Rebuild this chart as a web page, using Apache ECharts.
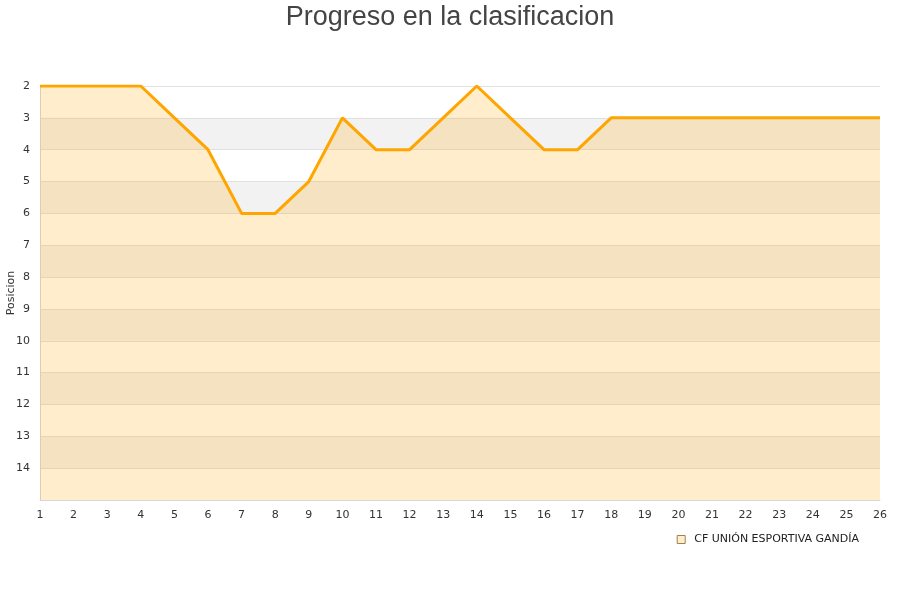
<!DOCTYPE html>
<html><head><meta charset="utf-8">
<script src="https://cdn.jsdelivr.net/npm/echarts@6/dist/echarts.min.js"></script>
<style>html,body{margin:0;padding:0;background:#fff}#c{width:900px;height:600px}</style>
</head><body><div id="c"></div>
<script>
const jornadas = [1,2,3,4,5,6,7,8,9,10,11,12,13,14,15,16,17,18,19,20,21,22,23,24,25,26];
const posiciones = [2,2,2,2,3,4,6,6,5,3,4,4,3,2,3,4,4,3,3,3,3,3,3,3,3,3];
const teamName = 'CF UNIÓN ESPORTIVA GANDÍA';
const titleText = 'Progreso en la clasificacion';
const yName = 'Posicion';

const chart = echarts.init(document.getElementById('c'), null, {renderer:'canvas'});
chart.setOption({
  animation:false,
  backgroundColor:'#fff',
  title:{text:titleText,left:'center',top:-1,textStyle:{fontFamily:'Liberation Sans, Arial, sans-serif',fontSize:27,fontWeight:'normal',color:'#444'}},
  legend:{show:true,right:36,top:529,itemWidth:8,itemHeight:8,icon:'rect',itemGap:6,
    textStyle:{fontFamily:'DejaVu Sans, sans-serif',fontSize:11,color:'#222',padding:[0,0,0,4]},
    data:[{name:teamName,itemStyle:{color:'#ffedcc',borderColor:'#a08050',borderWidth:1}}]},
  grid:{left:40,right:20,top:86,bottom:100,containLabel:false,outerBoundsMode:'none'},
  xAxis:{type:'value',min:1,max:26,interval:1,
    axisLine:{show:true,lineStyle:{color:'#d8d8d8'}},axisTick:{show:false},
    splitLine:{show:false},
    axisLabel:{margin:10,fontFamily:'DejaVu Sans, sans-serif',fontSize:11,color:'#333'}},
  yAxis:{type:'value',inverse:true,min:2,max:15,interval:1,
    name:yName,nameLocation:'middle',nameGap:23,nameRotate:90,nameMoveOverlap:false,
    nameTextStyle:{fontFamily:'DejaVu Sans, sans-serif',fontSize:11,color:'#333'},
    axisLine:{show:true,lineStyle:{color:'#d8d8d8'}},axisTick:{show:false},
    axisLabel:{margin:10,fontFamily:'DejaVu Sans, sans-serif',fontSize:11,color:'#333',
      formatter:v=>v===15?'':String(v)},
    splitLine:{show:true,lineStyle:{color:'#e0e0e0',width:1}},
    splitArea:{show:true,areaStyle:{color:['#ffffff','#f2f2f2']}}},
  series:[{name:teamName,type:'line',data:jornadas.map((j,i)=>[j,posiciones[i]]),
    showSymbol:false,symbol:'none',
    lineStyle:{color:'#ffa500',width:3},
    itemStyle:{color:'#ffedcc'},
    areaStyle:{color:'rgba(255,165,0,0.2)',opacity:1,origin:'end'}}]
});
</script></body></html>
